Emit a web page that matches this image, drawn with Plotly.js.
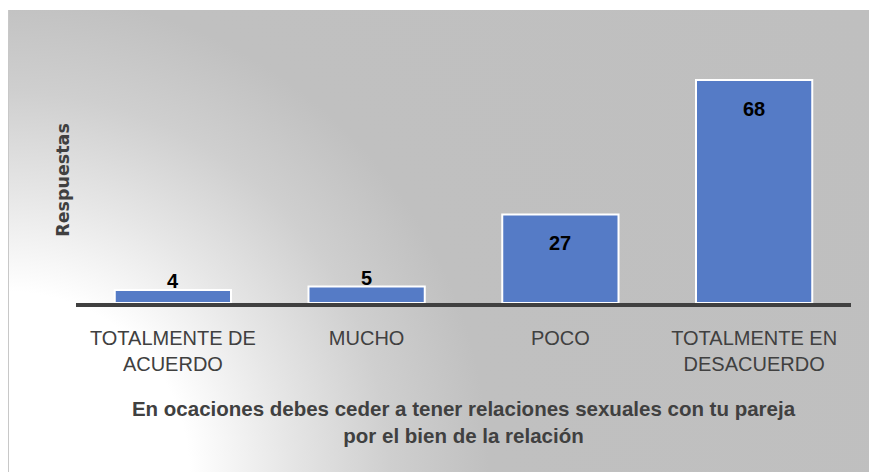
<!DOCTYPE html>
<html>
<head>
<meta charset="utf-8">
<script src="https://cdn.plot.ly/plotly-3.0.1.min.js"></script>
<style>
  html, body { margin: 0; padding: 0; background: #ffffff; }
  #wrap { position: relative; width: 869px; height: 472px; overflow: hidden; }
  #bg {
    position: absolute; left: 8px; top: 10px; width: 860px; height: 462px;
    border-left: 1px solid #c8c8c8;
    background: radial-gradient(circle at 0px 462px, #ffffff 0px, #ffffff 180px, #e6e6e6 280px, #cfcfcf 380px, #c0c0c0 480px, #bfbfbf 100%);
  }
  #chart { position: absolute; left: 0; top: 0; width: 869px; height: 472px; }
</style>
</head>
<body>
<div id="wrap">
  <div id="bg"></div>
  <div id="chart"></div>
</div>
<script>
const categories = ['TOTALMENTE DE<br>ACUERDO', 'MUCHO', 'POCO', 'TOTALMENTE EN<br>DESACUERDO'];
const values = [4, 5, 27, 68];
const xTitle = 'En ocaciones debes ceder a tener relaciones sexuales con tu pareja<br>por el bien de la relación';
const yTitle = 'Respuestas';

const labelFont = { family: 'Liberation Sans, Arial, sans-serif', size: 20, color: '#000000', weight: 'bold' };

const annotations = values.map((v, i) => ({
  x: categories[i], y: v, xref: 'x', yref: 'y',
  text: '<b>' + v + '</b>', showarrow: false,
  yanchor: 'middle', xanchor: 'center',
  yshift: v > 10 ? -29 : 9,
  font: labelFont
}));

const trace = {
  type: 'bar',
  x: categories,
  y: values,
  marker: { color: '#557BC6', line: { color: '#ffffff', width: 2 } },
  hoverinfo: 'none'
};

const layout = {
  width: 869, height: 472,
  margin: { l: 76, r: 18, t: 57, b: 169 },
  paper_bgcolor: 'rgba(0,0,0,0)',
  plot_bgcolor: 'rgba(0,0,0,0)',
  bargap: 0.4,
  showlegend: false,
  xaxis: {
    type: 'category',
    showline: true, linecolor: '#404040', linewidth: 4,
    showgrid: false, zeroline: false,
    ticks: '', ticklabelstandoff: 14,
    tickfont: { family: 'Liberation Sans, Arial, sans-serif', size: 20, color: '#404040' },
    title: {
      text: xTitle, standoff: 29,
      font: { family: 'Liberation Sans, Arial, sans-serif', size: 20.5, color: '#404040', weight: 'bold' }
    },
    fixedrange: true
  },
  yaxis: {
    range: [0, 75],
    showline: false, showgrid: false, zeroline: false,
    showticklabels: false, ticks: '',
    title: {
      text: yTitle, standoff: 0,
      font: { family: 'DejaVu Sans, Verdana, sans-serif', size: 17.5, color: '#404040', weight: 'bold' }
    },
    fixedrange: true
  },
  annotations: annotations
};

Plotly.newPlot('chart', [trace], layout, { displayModeBar: false, staticPlot: true });
</script>
</body>
</html>
